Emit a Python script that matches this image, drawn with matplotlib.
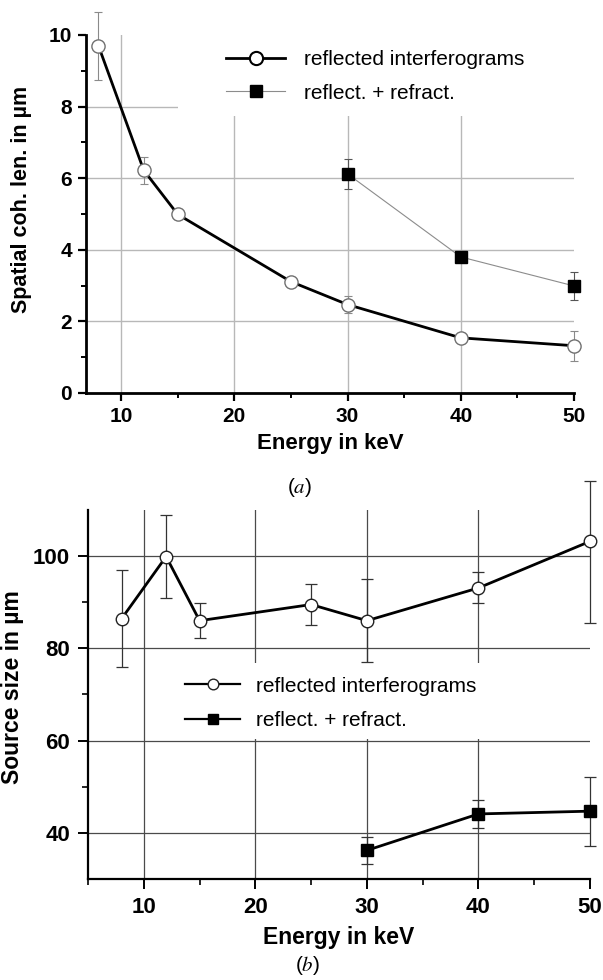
import numpy as np
import matplotlib.pyplot as plt
from matplotlib.patches import Rectangle

plt.rcParams['font.family'] = ['Liberation Sans', 'DejaVu Sans']
plt.rcParams['mathtext.fontset'] = 'stix'

# panel (a): spatial coherence length
energy_refl = [8, 12, 15, 25, 30, 40, 50]
coh_refl = [9.70, 6.22, 4.99, 3.11, 2.47, 1.54, 1.32]
coh_refl_err = [0.95, 0.38, 0.13, 0.12, 0.23, 0.10, 0.42]

energy_refr = [30, 40, 50]
coh_refr = [6.12, 3.80, 2.99]
coh_refr_err = [0.41, 0.08, 0.40]

# panel (b): source size
src_refl = [86.4, 99.9, 86.0, 89.5, 86.0, 93.1, 103.2]
src_refl_lo = [10.4, 8.9, 3.8, 4.5, 9.0, 3.2, 17.6]
src_refl_hi = [10.6, 9.0, 3.8, 4.4, 9.1, 3.4, 13.0]

src_refr = [36.2, 44.1, 44.7]
src_refr_err = [2.9, 3.0, 7.5]

lab_refl = "reflected interferograms"
lab_refr = "reflect. + refract."

fig = plt.figure(figsize=(6.03, 9.8), dpi=100)

# ---------------- (a)
ax = fig.add_axes([0.1426, 0.599, 0.8093, 0.3653])
ax.set_xlim(6.9, 50)
ax.set_ylim(0, 10)
ax.set_xticks([10, 20, 30, 40, 50])
ax.set_xticks([15, 25, 35, 45], minor=True)
ax.set_yticks([0, 2, 4, 6, 8, 10])
ax.set_yticks([1, 3, 5, 7, 9], minor=True)
for v in ax.get_xticks()[:-1]:
    ax.axvline(v, color='#b8b8b8', lw=1.0, zorder=0.5)
for v in ax.get_yticks()[1:-1]:
    ax.axhline(v, color='#b8b8b8', lw=1.0, zorder=0.5)
# legend area hides the grid
ax.add_patch(Rectangle((15, 7.75), 35, 2.25, facecolor='white', edgecolor='none', zorder=1))

ax.errorbar(energy_refl, coh_refl, yerr=coh_refl_err, fmt='none', ecolor='#8a8a8a',
            elinewidth=0.8, capsize=3.2, capthick=0.8, zorder=2, clip_on=False)
ax.errorbar(energy_refr, coh_refr, yerr=coh_refr_err, fmt='none', ecolor='#555555',
            elinewidth=0.8, capsize=3.2, capthick=0.8, zorder=2, clip_on=False)
ax.plot(energy_refl, coh_refl, '-', color='black', lw=2.0, marker='o', ms=9.5,
        mfc='white', mec='#707070', mew=1.0, label=lab_refl, zorder=3, clip_on=False)
ax.plot(energy_refr, coh_refr, '-', color='#8c8c8c', lw=0.8, marker='s', ms=9,
        mfc='black', mec='black', label=lab_refr, zorder=3, clip_on=False)

leg = ax.legend(loc='upper left', bbox_to_anchor=(0.287, 0.958), frameon=False,
                fontsize=15, handlelength=2.85, handletextpad=0.9, labelspacing=0.7,
                borderpad=0, borderaxespad=0)
leg.legend_handles[0].set_markeredgecolor('black')
leg.legend_handles[0].set_markeredgewidth(1.5)

for s in ['top', 'right']:
    ax.spines[s].set_visible(False)
for s in ['left', 'bottom']:
    ax.spines[s].set_linewidth(2.0)
ax.tick_params(which='major', direction='out', length=6, width=1.6, labelsize=15, pad=4)
ax.tick_params(which='minor', direction='out', length=3.5, width=1.4)
for t in ax.get_xticklabels() + ax.get_yticklabels():
    t.set_fontweight('bold')
ax.set_xlabel("Energy in keV", fontsize=16, fontweight='bold', labelpad=5)
ax.set_ylabel("Spatial coh. len. in µm", fontsize=15.5, fontweight='bold')
ax.yaxis.set_label_coords(-0.11, 0.54)

fig.text(0.497, 1 - 487 / 980, r'($a$)', fontsize=15, ha='center', va='center')

# ---------------- (b)
bx = fig.add_axes([0.146, 0.1031, 0.8325, 0.3765])
bx.set_xlim(5, 50)
bx.set_ylim(30, 110)
bx.set_xticks([10, 20, 30, 40, 50])
bx.set_xticks([5, 15, 25, 35, 45], minor=True)
bx.set_yticks([40, 60, 80, 100])
bx.set_yticks([50, 70, 90], minor=True)
for v in bx.get_xticks()[:-1]:
    bx.axvline(v, color='#4a4a4a', lw=0.9, zorder=0.5)
for v in bx.get_yticks():
    bx.axhline(v, color='#4a4a4a', lw=0.9, zorder=0.5)
bx.add_patch(Rectangle((12, 60.4), 38, 16.4, facecolor='white', edgecolor='none', zorder=1))

bx.errorbar(energy_refl, src_refl, yerr=[src_refl_lo, src_refl_hi], fmt='none',
            ecolor='#333333', elinewidth=0.9, capsize=4, capthick=0.9, zorder=2, clip_on=False)
bx.errorbar(energy_refr, src_refr, yerr=src_refr_err, fmt='none',
            ecolor='#333333', elinewidth=0.9, capsize=4, capthick=0.9, zorder=2, clip_on=False)
bx.plot(energy_refl, src_refl, '-', color='black', lw=2.0, marker='o', ms=9,
        mfc='white', mec='#222222', mew=1.0, label=lab_refl, zorder=3, clip_on=False)
bx.plot(energy_refr, src_refr, '-', color='black', lw=2.0, marker='s', ms=8.5,
        mfc='black', mec='black', label=lab_refr, zorder=3, clip_on=False)

leg2 = bx.legend(loc='upper left', bbox_to_anchor=(0.193, 0.548), frameon=False,
                 fontsize=15, handlelength=2.65, handletextpad=0.75, labelspacing=0.75,
                 borderpad=0, borderaxespad=0, markerscale=0.85)
for h in leg2.legend_handles:
    h.set_linewidth(1.6)

for s in ['top', 'right']:
    bx.spines[s].set_visible(False)
for s in ['left', 'bottom']:
    bx.spines[s].set_linewidth(1.6)
bx.tick_params(which='major', direction='out', length=7, width=1.4, labelsize=16, pad=6)
bx.tick_params(which='minor', direction='out', length=4, width=1.2)
for t in bx.get_xticklabels() + bx.get_yticklabels():
    t.set_fontweight('bold')
bx.set_xlabel("Energy in keV", fontsize=16.5, fontweight='bold', labelpad=6)
bx.set_ylabel("Source size in µm", fontsize=16.5, fontweight='bold')
bx.yaxis.set_label_coords(-0.128, 0.52)

fig.text(0.51, 1 - 965 / 980, r'($b$)', fontsize=15, ha='center', va='center')

fig.savefig('out.png', dpi=100)
